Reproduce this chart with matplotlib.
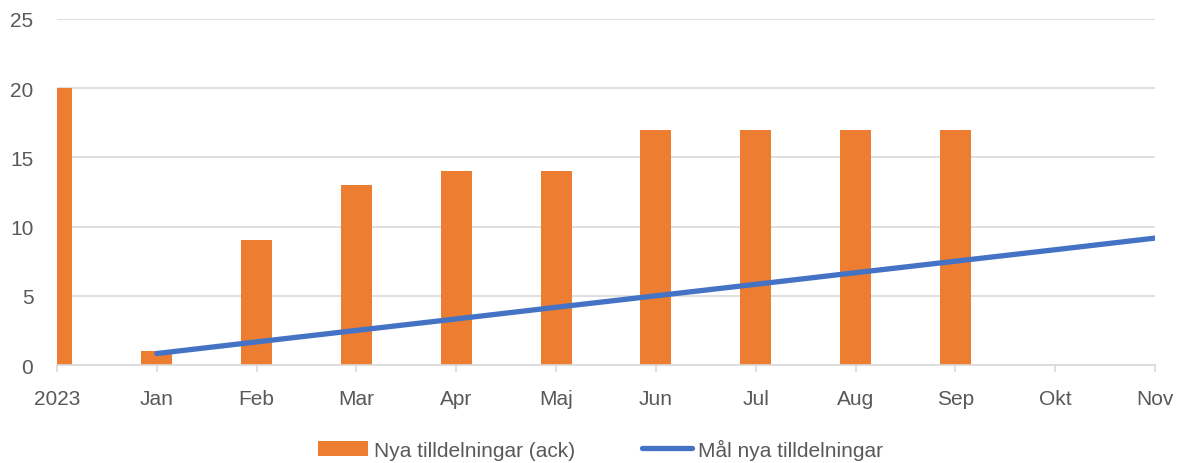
import matplotlib.pyplot as plt
import numpy as np

# x categories
months = ["2023", "Jan", "Feb", "Mar", "Apr", "Maj", "Jun", "Jul", "Aug", "Sep", "Okt", "Nov"]
# cumulative new allocations (bars); Okt and Nov have no data yet
allocations = [20, 1, 9, 13, 14, 14, 17, 17, 17, 17, 0, 0]
# target line, starts at Jan
target = [0.83, 1.67, 2.5, 3.33, 4.17, 5.0, 5.83, 6.67, 7.5, 8.33, 9.17]

text_color = "#595959"
grid_color = "#d9d9d9"
fs = 15

plt.rcParams['font.family'] = ['Liberation Sans', 'DejaVu Sans']

fig = plt.figure(figsize=(11.82, 4.64), dpi=100)
ax = fig.add_axes([0.0482, 0.2112, 0.929, 0.7457])

x = np.arange(len(months))
bars = ax.bar(x, allocations, width=0.31, color="#ED7D31", label="Nya tilldelningar (ack)", zorder=2)
line, = ax.plot(x[1:], target, color="#4472C4", lw=3.8, solid_capstyle="round",
                label="Mål nya tilldelningar", zorder=3)

ax.set_xlim(0, len(months) - 1)
ax.set_ylim(0, 25)
ax.set_yticks(range(0, 26, 5))
ax.set_xticks(x)
ax.set_xticklabels(months)

ax.grid(axis="y", color=grid_color, lw=1.2, zorder=0)
for s in ["top", "right", "left"]:
    ax.spines[s].set_visible(False)
ax.spines["bottom"].set_color(grid_color)
ax.spines["bottom"].set_linewidth(1.2)
ax.tick_params(axis="y", length=0, pad=17, labelsize=fs, labelcolor=text_color)
ax.tick_params(axis="x", length=5, color=grid_color, width=1.2, pad=12,
               labelsize=fs, labelcolor=text_color)
ax.set_axisbelow(True)

leg = fig.legend(handles=[bars, line], loc="center", bbox_to_anchor=(0.508, 0.03), ncol=2,
                 frameon=False, fontsize=fs, handlelength=2.4, handleheight=0.7,
                 columnspacing=3.2, handletextpad=0.3)
for t in leg.get_texts():
    t.set_color(text_color)

fig.savefig("out.png", dpi=100)
